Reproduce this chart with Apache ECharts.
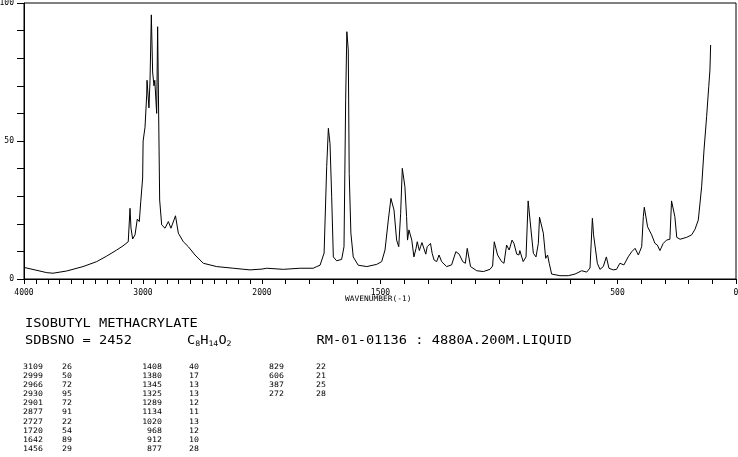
<!DOCTYPE html>
<html><head><meta charset="utf-8">
<script src="https://cdn.jsdelivr.net/npm/echarts@6/dist/echarts.min.js"></script>
<style>html,body{margin:0;padding:0;background:#fff}#c{width:738px;height:457px}</style>
</head><body><div id="c"></div>
<script>
// Spectrum, high wavenumber part (4000-2000 cm-1, compressed scale)
const highWavenumbers = [4000,3908,3809,3756,3641,3504,3389,3305,3221,3168,3124,3109,3101,3087,3067,3048,3031,3019,3003,2999,2983,2969,2966,2950,2941,2930,2919,2908,2901,2885,2877,2860,2843,2815,2787,2765,2727,2703,2661,2619,2563,2493,2381,2241,2101,2000];
const highIntensity = [4.2,3.3,2.3,2.1,2.9,4.5,6.3,8.3,10.5,12,13.5,25.6,18.5,14.5,16,21.7,20.8,28,36.6,50,55,66.7,72,62,72,95.7,75,70,72,60,91.4,28.6,19.6,18.4,20.8,18.4,22.9,16.6,13.5,11.7,8.7,5.7,4.5,3.9,3.3,3.6];
// Spectrum, low wavenumber part (2000-0 cm-1)
const lowWavenumbers = [2000,1980,1910,1840,1784,1769,1755,1738,1727,1720,1713,1706,1699,1685,1664,1654,1647,1642,1636,1632,1625,1615,1594,1558,1516,1495,1481,1467,1456,1443,1432,1423,1415,1408,1397,1390,1386,1380,1368,1359,1350,1345,1336,1331,1325,1309,1303,1289,1282,1274,1263,1253,1242,1221,1200,1182,1168,1153,1142,1134,1120,1094,1066,1038,1027,1020,1006,989,979,968,957,945,937,925,916,912,898,886,877,865,855,844,834,829,813,803,795,788,778,743,708,679,651,630,616,611,606,601,585,574,560,547,536,518,504,490,473,455,440,426,412,398,391,387,373,356,342,332,321,307,293,279,272,258,250,236,208,187,173,159,145,135,124,115,110,107];
const lowIntensity = [3.6,3.9,3.5,3.9,3.9,4.5,5,9.4,40.7,54.6,49,29.8,8,6.6,7.1,11.7,64.9,89.6,83,38.3,16.6,8,5,4.5,5.3,6.3,10.5,21.4,29.2,25,14.1,11.7,23.8,40.1,33.4,22.6,14.1,17.8,14.1,8,11.1,13.5,10.3,11.7,13.2,9,11.7,12.9,9.3,6.9,6.3,8.7,6.3,4.5,5.1,9.9,9,6.3,5.7,11.1,4.5,3,2.7,3.5,4.7,13.5,8.7,6.3,5.7,12.3,10.5,14.1,12.9,9,8.7,10.3,6.3,8,28.3,17.8,9.3,8,12.9,22.4,16.6,7.5,8.7,5.7,1.8,1.2,1.2,1.8,3,2.5,4,13,22,16,5.7,3.5,4.5,8,3.9,3.3,3.5,5.7,5.1,8,9.9,11.1,8.7,11.7,22.6,26,18.9,16,12.9,12.3,10.3,12.9,14.1,14.4,28.3,22.6,15.1,14.4,15.1,16,18,21.4,33.4,46.7,58.8,69.7,75.7,84.8];

const yTickLabels = [0, 50, 100];
const highXTickLabels = [4000, 3000];
const lowXTickLabels = [2000, 1500, 500, 0];
const xAxisName = 'WAVENUMBER(-1)';

const compoundName = 'ISOBUTYL METHACRYLATE';
const sdbsLine = 'SDBSNO = 2452';
const formulaParts = [['C', false], ['8', true], ['H', false], ['14', true], ['O', false], ['2', true]];
const measurementLine = 'RM-01-01136 : 4880A.200M.LIQUID';

const peakCol1 = ['3109','2999','2966','2930','2901','2877','2727','1720','1642','1456'];
const peakCol2 = ['26','50','72','95','72','91','22','54','89','29'];
const peakCol3 = ['1408','1380','1345','1325','1289','1134','1020','968','912','877'];
const peakCol4 = ['40','17','13','13','12','11','13','12','10','28'];
const peakCol5 = ['829','606','387','272'];
const peakCol6 = ['22','21','25','28'];

const MONO = '"DejaVu Sans Mono", "Liberation Mono", monospace';
const chart = echarts.init(document.getElementById('c'), null, {renderer: 'canvas'});

const highData = highWavenumbers.map((w, i) => [w, highIntensity[i]]);
const lowData = lowWavenumbers.map((w, i) => [w, lowIntensity[i]]);

function xAxisFor(grid, min, max, labels) {
  return {
    type: 'value', gridIndex: grid, min: min, max: max, inverse: true, interval: 100,
    axisLine: {show: true, onZero: false, lineStyle: {color: '#000', width: 1}},
    axisTick: {show: true, interval: 0, inside: false, length: 5, lineStyle: {color: '#000', width: 1}},
    axisLabel: {
      show: true, margin: 10, color: '#000', fontFamily: MONO, fontSize: 8,
      showMinLabel: true, showMaxLabel: true, hideOverlap: false,
      alignMinLabel: 'center', alignMaxLabel: 'center',
      formatter: v => labels.includes(v) ? String(v) : ''
    },
    splitLine: {show: false}
  };
}

const graphics = [];
function txt(text, x, y, size, scaleX, align) {
  graphics.push({
    type: 'text', x: x, y: y, scaleX: scaleX || 1, silent: true,
    style: {text: text, font: size + 'px ' + MONO, fill: '#000',
            textAlign: align || 'left', textVerticalAlign: 'middle'}
  });
}
// title lines
txt(compoundName, 25, 324, 11.4, 1.2);
txt(sdbsLine, 25, 341, 11.4, 1.2);
let fx = 187;
formulaParts.forEach(([s, sub]) => {
  if (sub) { txt(s, fx, 344.5, 7.5, 1.1); fx += s.length * 5.0; }
  else { txt(s, fx, 341, 11.4, 1.2); fx += 8.2; }
});
txt(measurementLine, 316.5, 341, 11.4, 1.2);
// axis name
txt(xAxisName, 345, 299, 7.5, 1.05);
// peak table
const rowY = i => 367 + i * 9.1;
peakCol1.forEach((s, i) => txt(s, 23, rowY(i), 7.5, 1.1));
peakCol2.forEach((s, i) => txt(s, 62, rowY(i), 7.5, 1.1));
peakCol3.forEach((s, i) => txt(s, 162, rowY(i), 7.5, 1.1, 'right'));
peakCol4.forEach((s, i) => txt(s, 189, rowY(i), 7.5, 1.1));
peakCol5.forEach((s, i) => txt(s, 269, rowY(i), 7.5, 1.1));
peakCol6.forEach((s, i) => txt(s, 316, rowY(i), 7.5, 1.1));

chart.setOption({
  animation: false,
  backgroundColor: '#fff',
  grid: [
    {left: 24, top: 3, width: 238, height: 276, outerBoundsMode: 'none', containLabel: false},
    {left: 262, top: 3, width: 474, height: 276, outerBoundsMode: 'none', containLabel: false},
    {left: 24, top: 3, width: 712, height: 276, show: true, borderColor: '#000', borderWidth: 1,
     backgroundColor: 'transparent', outerBoundsMode: 'none', containLabel: false, z: 0}
  ],
  xAxis: [
    xAxisFor(0, 2000, 4000, highXTickLabels),
    xAxisFor(1, 0, 2000, lowXTickLabels),
    {type: 'value', gridIndex: 2, show: false, min: 0, max: 1}
  ],
  yAxis: [
    {type: 'value', gridIndex: 0, min: 0, max: 100, interval: 10,
     axisLine: {show: true, onZero: false, lineStyle: {color: '#000', width: 1}},
     axisTick: {show: true, interval: 0, inside: false, length: 7, lineStyle: {color: '#000', width: 1}},
     axisLabel: {show: true, margin: 10, color: '#000', fontFamily: MONO, fontSize: 8,
                 showMinLabel: true, showMaxLabel: true,
                 formatter: v => yTickLabels.includes(v) ? String(v) : ''},
     splitLine: {show: false}},
    {type: 'value', gridIndex: 1, min: 0, max: 100, show: false, splitLine: {show: false}},
    {type: 'value', gridIndex: 2, show: false, min: 0, max: 1}
  ],
  series: [
    {type: 'line', xAxisIndex: 0, yAxisIndex: 0, data: highData, symbol: 'none', showSymbol: false,
     lineStyle: {color: '#000', width: 1}, itemStyle: {color: '#000'}, smooth: false, z: 5},
    {type: 'line', xAxisIndex: 1, yAxisIndex: 1, data: lowData, symbol: 'none', showSymbol: false,
     lineStyle: {color: '#000', width: 1}, itemStyle: {color: '#000'}, smooth: false, z: 5}
  ],
  graphic: graphics
});
</script></body></html>
